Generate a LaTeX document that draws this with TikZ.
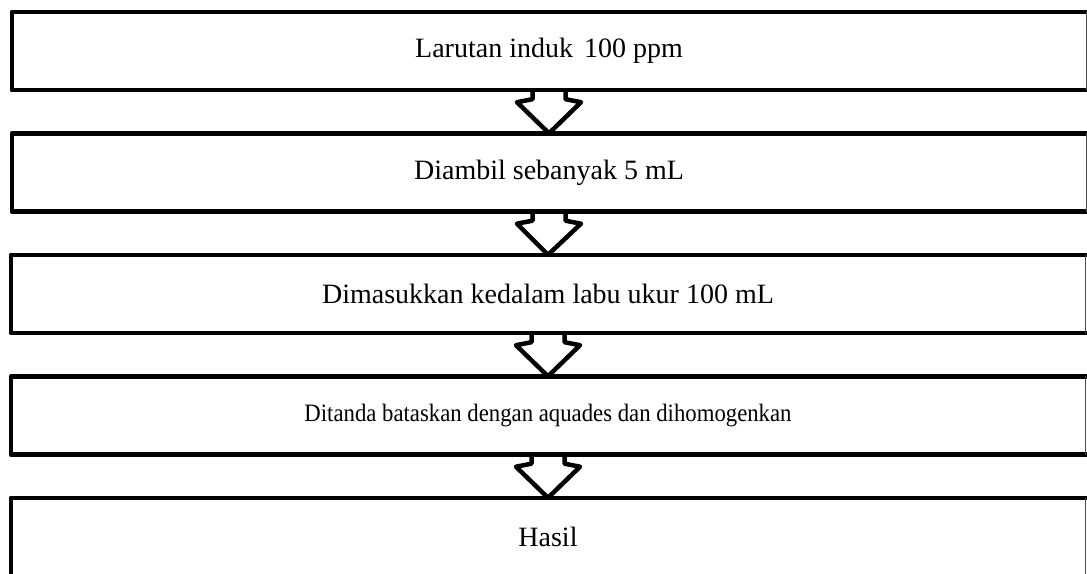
\documentclass[tikz,border=0pt]{standalone}
\usepackage{fontspec}
\setmainfont{Liberation Serif}
\begin{document}
\begin{tikzpicture}[x=1pt,y=-1pt,
  stepbox/.style={rectangle, minimum width=1074pt, minimum height=78pt, inner sep=0pt, font=\fontsize{28}{32}\selectfont},
  thickline/.style={line width=4.5pt, line join=round, line cap=round},
  thinline/.style={line width=1.3pt, black!70}]
\useasboundingbox (0,0) rectangle (1087,573);
\node[stepbox] (b1) at (549,51) {Larutan induk\hspace{11pt}100 ppm};
\node[stepbox] (b2) at (549,172.5) {Diambil sebanyak 5 mL};
\node[stepbox] (b3) at (548,294) {Dimasukkan kedalam labu ukur 100 mL};
\node[stepbox] (b4) at (548,415.5) {\fontsize{25}{30}\selectfont\scalebox{0.91}[1]{Ditanda bataskan dengan aquades dan dihomogenkan}};
\node[stepbox] (b5) at (548,537) {Hasil};
\foreach \b in {b1,b2,b3,b4,b5}{
  \draw[thickline] ([xshift=4pt]\b.north east) -- (\b.north west) -- (\b.south west) -- ([xshift=4pt]\b.south east);
  \draw[thinline] (\b.north east) -- (\b.south east);
}
\foreach \a/\c in {b1/b2,b2/b3,b3/b4,b4/b5}{
  \draw[thickline] ([xshift=-16.5pt]\a.south) -- ([xshift=-16.5pt,yshift=-9pt]\a.south) -- ([xshift=-32pt,yshift=-12pt]\a.south) -- (\c.north) -- ([xshift=32pt,yshift=-12pt]\a.south) -- ([xshift=16.5pt,yshift=-9pt]\a.south) -- ([xshift=16.5pt]\a.south);
}
\end{tikzpicture}
\end{document}
